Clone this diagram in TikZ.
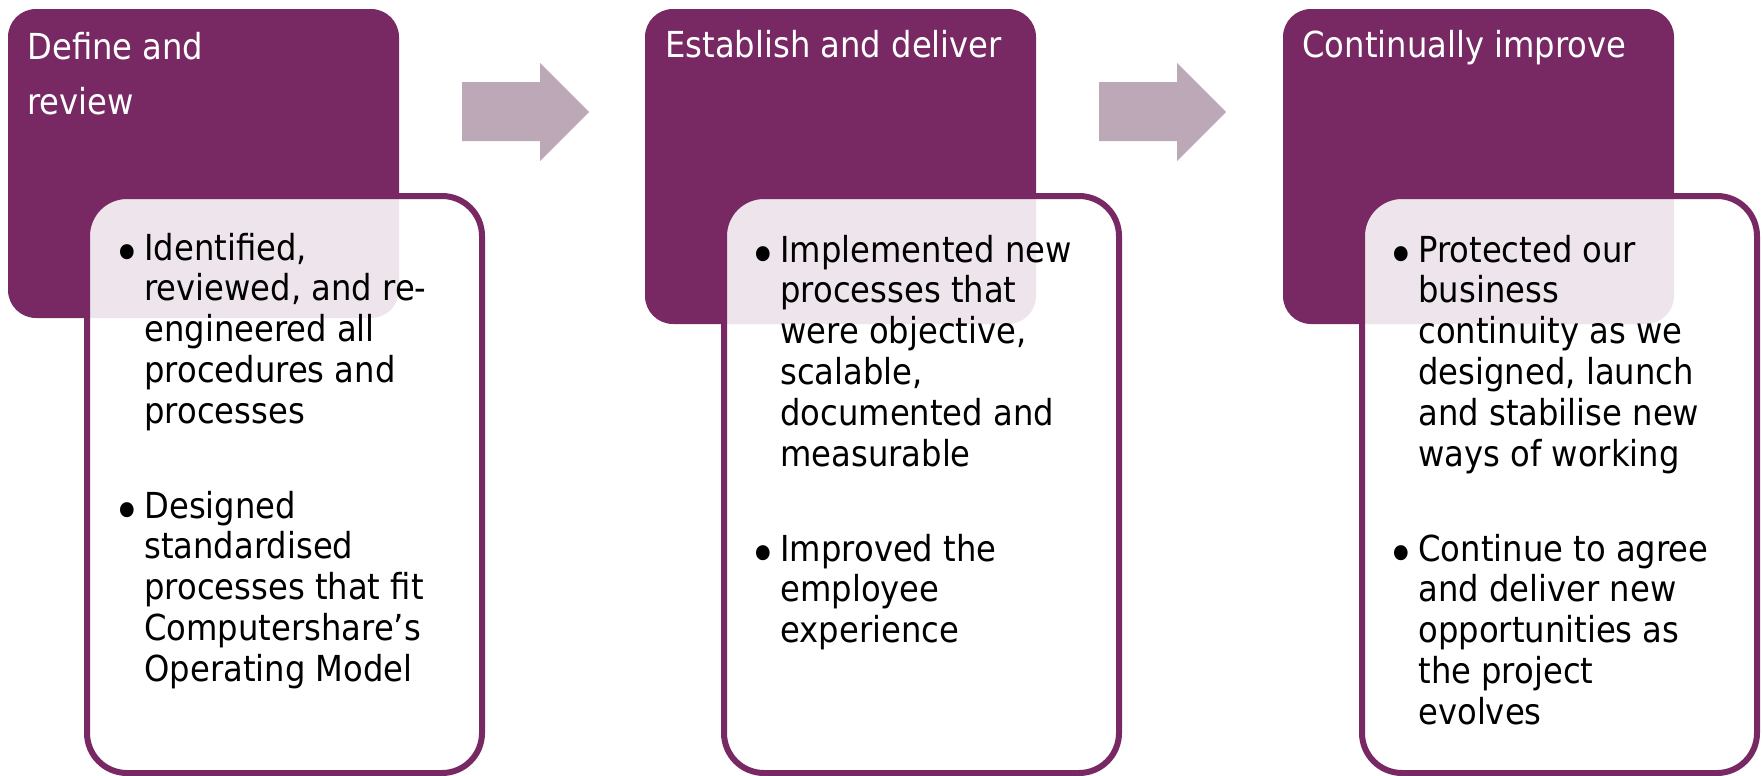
\documentclass[tikz,border=0pt]{standalone}
\usepackage{fontspec}
\setmainfont{DejaVu Sans}[FakeStretch=0.9]
\definecolor{plum}{RGB}{120,40,98}
\definecolor{arrowgrey}{RGB}{188,168,182}
% left-aligned lines whose reference point is the first baseline
\newcommand\toplines[1]{\vtop{\halign{##\hfil\cr#1\crcr}}}
\begin{document}
\begin{tikzpicture}[x=0.5pt,y=-0.5pt,
  stage/.style={fill=plum, rounded corners=14pt, minimum width=195.5pt,
    inner sep=0pt, outer sep=0pt, anchor=north west},
  detail/.style={draw=plum, line width=3pt, fill=white, fill opacity=0.88,
    rounded corners=20pt, minimum width=197.5pt, minimum height=288.5pt,
    inner sep=0pt, outer sep=0pt, anchor=north west},
  heading/.style={text=white, anchor=base west, inner sep=0pt,
    font=\fontsize{17.9}{27.5}\selectfont},
  item/.style={text=black, anchor=base west, inner sep=0pt,
    font=\fontsize{17.9}{20.4}\selectfont},
  % larger bullet glyph, its baseline lowered so the dot sits at mid x-height
  dot/.style={text=black, anchor=base, inner sep=0pt, yshift=-5.5pt,
    font=\fontsize{26}{26}\selectfont},
  flow/.style={fill=arrowgrey}]
\useasboundingbox (0,0) rectangle (1763,776);

% purple stage boxes
\node[stage, minimum height=154.5pt] (s1) at (8,9) {};
\node[stage, minimum height=157.5pt] (s2) at (645,9) {};
\node[stage, minimum height=157.5pt] (s3) at (1283,9) {};

% stage headings
\node[heading] (h1) at (27,60) {\toplines{Define and\cr review}};
\node[heading] (h2) at (665,57) {Establish and deliver};
\node[heading] (h3) at (1302,57) {Continually improve};

% block arrows between the stages
\foreach \ax [count=\i] in {462,1099} {
  \coordinate (a\i) at (\ax,82);
  \fill[flow] (a\i) -- ++(78,0) -- ++(0,-19) -- ++(49,49) -- ++(-49,49)
    -- ++(0,-20) -- ++(-78,0) -- cycle;
}

% outlined detail boxes overlapping the stages
\node[detail] (d1) at (87,196) {};
\node[detail] (d2) at (724,196) {};
\node[detail] (d3) at (1362,196) {};

% bullet lists
\node[dot] (b11) at (127,260) {•};
\node[item] (t11) at (144,260) {\toplines{Identified,\cr reviewed, and re-\cr engineered all\cr procedures and\cr processes}};
\node[dot] (b12) at (127,518) {•};
\node[item] (t12) at (144,518) {\toplines{Designed\cr standardised\cr processes that fit\cr Computershare’s\cr Operating Model}};

\node[dot] (b21) at (763,262) {•};
\node[item] (t21) at (780,262) {\toplines{Implemented new\cr processes that\cr were objective,\cr scalable,\cr documented and\cr measurable}};
\node[dot] (b22) at (763,561) {•};
\node[item] (t22) at (780,561) {\toplines{Improved the\cr employee\cr experience}};

\node[dot] (b31) at (1401,262) {•};
\node[item] (t31) at (1418,262) {\toplines{Protected our\cr business\cr continuity as we\cr designed, launch\cr and stabilise new\cr ways of working}};
\node[dot] (b32) at (1401,561) {•};
\node[item] (t32) at (1418,561) {\toplines{Continue to agree\cr and deliver new\cr opportunities as\cr the project\cr evolves}};
\end{tikzpicture}
\end{document}
